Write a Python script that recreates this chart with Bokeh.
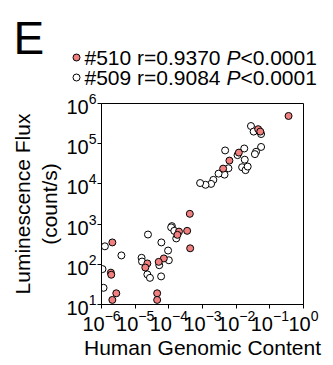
from bokeh.plotting import figure
from bokeh.models import LogTicker, Range1d
from bokeh.core.properties import value
from bokeh.embed import file_html
from bokeh.resources import INLINE

# Data: human genomic content (x) vs luminescence flux (y)
x510 = [3.6e-1, 4.5e-2, 5.2e-2, 1.2e-2, 6.3e-3, 4.1e-3, 4.2e-4, 3.5e-4, 4.3e-4,
        2.0e-4, 1.8e-4, 7.1e-5, 5.0e-5, 2.3e-5, 2.0e-5, 4.5e-5, 4.5e-5,
        2.1e-6, 1.9e-6, 1.95e-6, 2.75e-6, 2.1e-6]
y510 = [4.9e5, 2.3e5, 2.0e5, 6.0e4, 3.8e4, 2.4e4, 1.8e3, 6.8e2, 2.5e2,
        6.5e2, 5.4e2, 1.4e2, 1.15e2, 1.05e2, 8.3e1, 1.9e1, 1.3e1,
        3.5e2, 6.2e1, 5.5e1, 1.9e1, 1.3e1]
x509 = [2.75e-2, 3.3e-2, 5.5e-2, 5.5e-2, 3.9e-2, 3.6e-2, 1.74e-2, 1.8e-2, 1.5e-2,
        1.9e-2, 2.2e-2, 1.1e-2, 4.7e-3, 5.9e-3, 4.5e-3, 3.0e-3, 2.1e-3, 1.8e-3,
        1.23e-3, 8.5e-4, 1.23e-4, 1.17e-4, 1.45e-4, 1.66e-4, 9.5e-5, 1.0e-4,
        6.0e-5, 2.4e-5, 1.55e-5, 1.6e-5, 5.2e-5, 2.3e-5, 2.75e-5, 5.9e-5,
        3.9e-6, 1.26e-6, 1.07e-6, 1.15e-6]
y509 = [2.75e5, 2.0e5, 1.74e5, 8.3e4, 6.3e4, 5.5e4, 7.6e4, 4.0e4, 2.6e4,
        2.2e4, 2.7e4, 5.2e4, 6.8e4, 2.45e4, 1.7e4, 1.8e4, 1.26e4, 1.0e4,
        9.5e3, 1.05e4, 8.9e2, 8.3e2, 6.8e2, 4.4e2, 2.2e2, 1.26e2,
        3.5e2, 5.5e2, 1.45e2, 1.17e2, 9.5e1, 5.6e1, 4.6e1, 5.0e1,
        1.66e2, 2.8e2, 7.6e1, 2.6e1]

series_names = ["#510 r=0.9370 ", "#509 r=0.9084 "]
p_text = ["P", "P"]
p_values = ["<0.0001", "<0.0001"]
panel_letter = "E"
x_label = "Human Genomic Content"
y_label = "Luminescence Flux\n(count/s)"

RED = "#F08080"
FONT = "Liberation Sans"
W = 333
TOP_H = 90
FL, FR = 101, 303   # frame left/right in page pixels

# ---- header (panel letter + legend), a figure whose frame is the whole header ----
h = figure(frame_width=W, frame_height=TOP_H,
           x_range=Range1d(0, W), y_range=Range1d(TOP_H, 0),
           min_border_left=0, min_border_right=0,
           min_border_top=0, min_border_bottom=0,
           x_axis_location=None, y_axis_location=None,
           output_backend="svg", toolbar_location=None)
h.grid.visible = False
h.outline_line_color = None
h.background_fill_color = "white"
h.border_fill_color = "white"

h.text(x=[13], y=[37], text=[panel_letter], text_font=value(FONT),
       text_font_size="46px", text_color="black", text_baseline="middle")

leg_x = 76
leg_cy = [57, 77]
leg_mid = [56.5, 76.5]
txt_x = 84
h.scatter([leg_x], [leg_cy[0]], size=7, fill_color=RED, line_color="black", line_width=1)
h.scatter([leg_x], [leg_cy[1]], size=7, fill_color="white", line_color="black", line_width=1)
h.text(x=[txt_x] * 2, y=leg_mid, text=series_names, text_font=value(FONT),
       text_font_size="21px", text_color="black", text_baseline="middle")
h.text(x=[txt_x + 141.9] * 2, y=leg_mid, text=p_text, text_font=value(FONT),
       text_font_size="21px", text_font_style="italic", text_color="black",
       text_baseline="middle")
h.text(x=[txt_x + 155.9] * 2, y=leg_mid, text=p_values, text_font=value(FONT),
       text_font_size="21px", text_color="black", text_baseline="middle")

# ---- main scatter plot ----
p = figure(x_axis_type="log", y_axis_type="log",
           x_range=(1e-6, 1e0), y_range=(1e1, 1e6),
           frame_width=FR - FL, frame_height=201,
           min_border_left=FL, min_border_top=103 - TOP_H,
           min_border_right=W - FR, min_border_bottom=365 - 304,
           output_backend="svg", toolbar_location=None)
p.grid.visible = False
p.background_fill_color = "white"
p.border_fill_color = "white"
p.outline_line_color = "black"
p.outline_line_width = 1

for ax in (p.xaxis[0], p.yaxis[0]):
    ax.ticker = LogTicker(desired_num_ticks=6, num_minor_ticks=0)
    ax.axis_line_color = "black"
    ax.major_tick_line_color = "black"
    ax.major_tick_out = 4
    ax.major_tick_in = 0
    ax.minor_tick_line_color = None
    ax.major_label_text_font = FONT
    ax.major_label_text_font_size = "20px"
    ax.major_label_text_color = "black"
    ax.axis_label_text_font = FONT
    ax.axis_label_text_font_size = "21px"
    ax.axis_label_text_font_style = "normal"
    ax.axis_label_text_color = "black"
    ax.major_label_standoff = 1
    ax.axis_label_standoff = 2

p.xaxis.axis_label = x_label
p.yaxis.axis_label = y_label

p.scatter(x509, y509, size=7, fill_color="white", line_color="black", line_width=1)
p.scatter(x510, y510, size=7, fill_color=RED, line_color="black", line_width=1)

# two separate roots, stacked, so the header's frame is not aligned to the plot's frame
open("out.html", "w").write(file_html([h, p], INLINE))
